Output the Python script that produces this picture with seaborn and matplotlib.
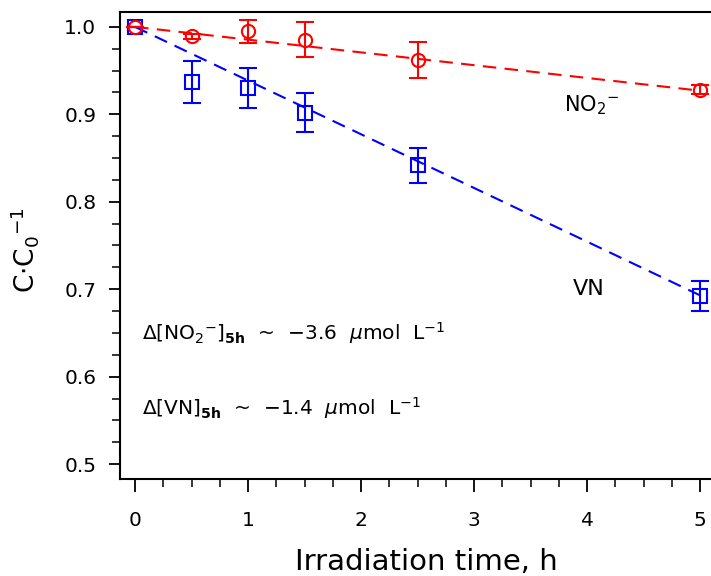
import matplotlib
matplotlib.use("Agg")
import matplotlib.pyplot as plt
from matplotlib.ticker import MultipleLocator, FormatStrFormatter
import seaborn as sns
import pandas as pd

# data
time_h = [0, 0.5, 1.0, 1.5, 2.5, 5.0]
no2_ratio = [1.000, 0.989, 0.995, 0.985, 0.962, 0.928]
no2_err = [0.000, 0.003, 0.013, 0.020, 0.021, 0.005]
vn_ratio = [1.000, 0.937, 0.930, 0.902, 0.842, 0.692]
vn_err = [0.000, 0.024, 0.023, 0.022, 0.020, 0.017]
fit_time = [0, 5]
fit_no2 = [1.000, 0.927]
fit_vn = [1.000, 0.693]
x_ticks = [0, 1, 2, 3, 4, 5]
y_ticks = [0.5, 0.6, 0.7, 0.8, 0.9, 1.0]

sns.set_style("ticks")
plt.rcParams['font.family'] = ['DejaVu Sans']
plt.rcParams['mathtext.fontset'] = 'dejavusans'
plt.rcParams['text.color'] = 'black'
plt.rcParams['axes.labelcolor'] = 'black'

fig = plt.figure(figsize=(7.11, 5.76), dpi=100)
ax = fig.add_axes([120/711, 97/576, 597/711, 467/576])

red = '#ff0000'
blue = '#0000ff'

fit_df = pd.DataFrame({'t': fit_time + fit_time,
                       'y': fit_no2 + fit_vn,
                       's': ['NO2'] * 2 + ['VN'] * 2})
sns.lineplot(data=fit_df, x='t', y='y', hue='s', palette={'NO2': red, 'VN': blue},
             ax=ax, legend=False, linewidth=1.5, zorder=2)
for line in ax.get_lines():
    line.set_dashes([6.5, 4])

ax.errorbar(time_h, vn_ratio, yerr=vn_err, fmt='s', mfc='none', mec=blue, ecolor=blue,
            ms=9.5, mew=1.5, elinewidth=1.5, capsize=6.5, capthick=1.5, zorder=3)
ax.errorbar(time_h, no2_ratio, yerr=no2_err, fmt='o', mfc='none', mec=red, ecolor=red,
            ms=9.5, mew=1.5, elinewidth=1.5, capsize=6.5, capthick=1.5, zorder=4)

ax.set_xlim(-0.133, 5.15)
ax.set_ylim(0.483, 1.017)
ax.set_xticks(x_ticks)
ax.set_yticks(y_ticks)
ax.xaxis.set_minor_locator(MultipleLocator(0.25))
ax.yaxis.set_minor_locator(MultipleLocator(0.025))
ax.yaxis.set_major_formatter(FormatStrFormatter('%.1f'))
ax.tick_params(which='major', direction='out', length=8, width=1.3, labelsize=14.5,
               colors='black')
ax.tick_params(which='minor', direction='out', length=6, width=1.3)
ax.tick_params(axis='x', which='major', length=9, pad=14)
ax.tick_params(axis='y', which='major', pad=9)

for s in ax.spines.values():
    s.set_linewidth(1.5)
    s.set_color('black')

ax.set_xlabel('Irradiation time, h', fontsize=21)
ax.xaxis.set_label_coords(0.514, -0.147)
ax.set_ylabel(r'C$\cdot$C$_0$$^{-1}$', fontsize=19)
ax.yaxis.set_label_coords(-0.132, 0.49)

ax.text(3.8, 0.911, r'NO$_2$$^{-}$', fontsize=15, ha='left', va='center')
ax.text(3.87, 0.70, 'VN', fontsize=16, ha='left', va='center')
ax.text(0.06, 0.650, r'$\Delta$[NO$_2$$^{-}$]$_{\mathbf{5h}}$  ~  $-$3.6  $\mathit{\mu}$mol  L$^{-1}$',
        fontsize=14.5, ha='left', va='center')
ax.text(0.06, 0.564, r'$\Delta$[VN]$_{\mathbf{5h}}$  ~  $-$1.4  $\mathit{\mu}$mol  L$^{-1}$',
        fontsize=14.5, ha='left', va='center')

fig.savefig('out.png', dpi=100)
